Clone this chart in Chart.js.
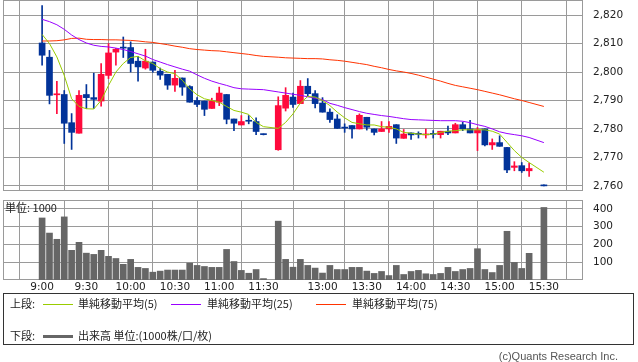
<!DOCTYPE html>
<html>
<head>
<meta charset="utf-8">
<script src="https://cdn.jsdelivr.net/npm/chart.js@4/dist/chart.umd.min.js"></script>
<style>
  body { margin: 0; background: #fff; }
  #wrap { position: relative; width: 638px; height: 362px; overflow: hidden; font-family: "Noto Sans CJK JP", "Noto Sans", sans-serif; color: #222; }
  canvas { position: absolute; left: 0; }
  #priceChart { top: 0; }
  #volChart { top: 190px; }
  .txt { position: absolute; font-size: 11px; line-height: 13px; white-space: nowrap; }
  .ln { position: absolute; height: 1px; width: 30px; }
  #legend { position: absolute; left: 3px; top: 293px; width: 631px; height: 52px; border: 1px solid #333; box-sizing: border-box; }
</style>
</head>
<body>
<div id="wrap">
  <canvas id="priceChart" width="638" height="191"></canvas>
  <canvas id="volChart" width="638" height="108"></canvas>
  <div class="txt" style="left:5px;top:201px;">単位: 1000</div>
  <div id="legend"></div>
  <div class="txt" style="left:10px;top:297px;">上段:</div>
  <div class="ln" style="left:43px;top:304px;background:#99cc00;"></div>
  <div class="txt" style="left:78px;top:297px;">単純移動平均(5)</div>
  <div class="ln" style="left:171px;top:304px;background:#9900ff;"></div>
  <div class="txt" style="left:207px;top:297px;">単純移動平均(25)</div>
  <div class="ln" style="left:316px;top:304px;background:#ff3300;"></div>
  <div class="txt" style="left:352px;top:297px;">単純移動平均(75)</div>
  <div class="txt" style="left:10px;top:329px;">下段:</div>
  <div class="ln" style="left:43px;top:335px;height:3px;background:#666;"></div>
  <div class="txt" style="left:78px;top:329px;">出来高 単位:(1000株/口/枚)</div>
  <div class="txt" style="right:20px;top:350px;color:#555;font-family:'Liberation Sans',sans-serif;">(c)Quants Research Inc.</div>
</div>
<script>
// 5-minute slots, '' = lunch break gap
const times = ['9:00','9:05','9:10','9:15','9:20','9:25','9:30','9:35','9:40','9:45','9:50','9:55',
  '10:00','10:05','10:10','10:15','10:20','10:25','10:30','10:35','10:40','10:45','10:50','10:55',
  '11:00','11:05','11:10','11:15','11:20','11:25','11:30','',
  '12:30','12:35','12:40','12:45','12:50','12:55',
  '13:00','13:05','13:10','13:15','13:20','13:25','13:30','13:35','13:40','13:45','13:50','13:55',
  '14:00','14:05','14:10','14:15','14:20','14:25','14:30','14:35','14:40','14:45','14:50','14:55',
  '15:00','15:05','15:10','15:15','15:20','15:25','15:30'];
const axisTimes = ['9:00','9:30','10:00','10:30','11:00','11:30','13:00','13:30','14:00','14:30','15:00','15:30'];
const priceTicks = [2760, 2770, 2780, 2790, 2800, 2810, 2820];
const volumeTicks = [100, 200, 300, 400];

const opens = [2810.2,2805.2,2792.0,2792.1,2782.2,2778.5,2792.1,2791.0,2789.8,2798.8,2807.0,2808.6,
  2808.6,2803.8,2801.4,2803.5,2800.3,2799.2,2795.4,2797.9,2794.9,2790.0,2789.8,2787.2,
  2789.4,2792.1,2783.5,2781.4,2782.9,2782.6,2778.1,null,
  2772.7,2787.3,2791.2,2788.9,2795.0,2792.4,
  2789.1,2785.9,2783.5,2780.5,2781.2,2780.0,2784.1,2780.0,2779.1,2780.0,2781.5,2776.7,
  2778.6,2778.3,2777.9,2778.3,2778.0,2779.2,2778.6,2781.5,2780.0,2778.6,2780.0,2774.4,
  2775.2,2773.5,2766.5,2767.1,2765.3,null,2760.1];
const highs = [2823.3,2807.6,2796.7,2793.5,2785.4,2793.5,2795.6,2799.6,2803.0,2810.0,2808.3,2812.3,
  2810.6,2805.5,2808.0,2803.5,2801.4,2799.2,2800.6,2797.9,2795.2,2791.0,2789.8,2790.8,
  2794.7,2792.1,2783.5,2784.7,2784.7,2783.9,2778.2,null,
  2791.3,2794.5,2792.6,2797.0,2797.7,2793.5,
  2791.0,2787.1,2785.0,2781.8,2781.2,2785.3,2784.1,2780.0,2782.6,2782.6,2781.5,2779.8,
  2778.6,2779.0,2780.0,2779.4,2779.2,2781.0,2782.0,2782.4,2783.0,2780.5,2780.0,2776.5,
  2777.6,2773.5,2768.5,2768.2,2768.0,null,2760.1];
const lows = [2802.4,2788.8,2785.4,2774.9,2772.8,2778.5,2787.2,2787.2,2788.0,2797.7,2802.4,2805.1,
  2800.0,2796.8,2801.0,2799.9,2797.4,2793.9,2793.2,2791.8,2789.4,2787.8,2784.7,2787.2,
  2788.2,2781.8,2779.4,2781.4,2781.8,2778.0,2777.9,null,
  2772.5,2786.3,2787.6,2788.9,2791.6,2787.4,
  2785.9,2782.3,2780.2,2778.8,2776.8,2780.0,2779.6,2777.9,2779.1,2778.8,2774.9,2776.7,
  2776.3,2776.8,2776.8,2776.8,2776.8,2778.0,2778.6,2779.4,2778.6,2772.4,2774.0,2772.8,
  2773.9,2764.6,2765.3,2764.7,2763.3,null,2760.0];
const closes = [2805.9,2791.8,2792.2,2782.0,2778.8,2791.8,2791.0,2790.4,2799.2,2806.7,2808.0,2808.4,
  2803.0,2801.8,2803.8,2800.6,2798.9,2795.4,2797.8,2794.7,2789.4,2788.6,2786.9,2789.8,
  2792.6,2783.4,2782.0,2782.6,2782.7,2779.1,2778.0,null,
  2788.2,2791.8,2788.6,2795.0,2792.4,2788.9,
  2785.9,2783.3,2780.2,2780.3,2780.0,2784.8,2780.6,2778.8,2780.0,2780.9,2776.8,2778.2,
  2777.9,2778.1,2778.1,2778.1,2779.2,2778.6,2781.5,2780.0,2778.6,2779.7,2774.4,2775.2,
  2773.9,2765.6,2767.0,2765.3,2766.1,null,2760.0];
const volumes = [349,264,229,355,167,212,151,144,167,133,121,88,
  116,71,65,44,50,56,56,56,95,82,76,71,
  71,172,104,54,38,59,8,null,
  331,116,72,116,82,67,
  39,82,59,59,71,71,50,37,48,25,82,31,
  48,54,35,31,37,71,48,59,65,176,59,42,
  82,274,99,65,150,null,408];

const sma5 = [2813.2,2810.0,2805.3,2798.8,2790.6,2787.9,2787.1,2787.0,2790.0,2795.3,2800.0,2803.0,
  2805.1,2805.5,2803.9,2803.0,2801.2,2800.0,2799.4,2797.1,2794.1,2792.0,2790.6,2790.0,
  2789.4,2787.9,2786.5,2785.9,2785.1,2782.3,2780.8,null,
  2780.2,2782.3,2785.3,2789.1,2791.4,2791.2,
  2790.0,2788.2,2785.9,2783.9,2782.3,2781.8,2781.4,2781.4,2780.8,2780.6,2780.0,2778.8,
  2778.5,2778.2,2778.0,2778.2,2778.8,2779.2,2779.4,2779.7,2779.7,2779.7,2779.7,2779.2,
  2778.2,2775.3,2772.4,2770.0,2768.2,null,2764.8];
const sma25 = [2818.5,2817.7,2816.6,2815.0,2813.0,2811.4,2810.2,2809.4,2809.0,2808.8,2808.4,2807.9,
  2807.2,2806.4,2805.6,2804.4,2803.5,2802.6,2801.8,2801.0,2800.3,2799.0,2797.8,2796.8,
  2796.0,2795.3,2794.5,2794.1,2794.0,2793.9,2793.8,null,
  2793.0,2792.6,2792.2,2791.8,2791.3,2790.8,
  2790.3,2789.0,2788.3,2787.5,2786.8,2786.1,2785.5,2785.1,2784.7,2784.4,2784.0,2783.6,
  2783.3,2783.2,2783.1,2783.0,2782.9,2782.9,2782.9,2782.7,2782.2,2781.5,2780.9,2780.0,
  2779.0,2778.4,2778.0,2777.6,2777.0,null,2775.2];
const sma75 = [2810.9,2810.9,2811.0,2811.3,2811.8,2811.9,2811.5,2811.4,2811.4,2811.3,2811.3,2811.2,
  2811.1,2810.9,2810.6,2810.4,2810.0,2809.6,2809.1,2808.7,2808.2,2807.9,2807.7,2807.5,
  2807.4,2807.1,2806.8,2806.5,2806.2,2805.8,2805.5,null,
  2805.2,2805.0,2804.9,2804.8,2804.7,2804.7,
  2804.6,2804.3,2804.1,2803.8,2803.4,2803.0,2802.6,2802.0,2801.5,2800.9,2800.4,2800.0,
  2799.5,2798.9,2798.2,2797.5,2796.8,2796.0,2795.3,2794.8,2794.3,2793.8,2793.2,2792.6,
  2792.0,2791.3,2790.6,2790.0,2789.3,null,2787.9];

const UP = '#ff0a3c';
const DOWN = '#023399';
const GRID = '#9a9a9a';
const tickFont = { family: 'DejaVu Sans', size: 10.5 };

function points(arr) {
  const out = [];
  arr.forEach((v, i) => { if (v !== null) out.push({ x: i, y: v }); });
  return out;
}
function ranges(a, b) {
  const out = [];
  a.forEach((v, i) => { if (v !== null) out.push({ x: i, y: [v, b[i]] }); });
  return out;
}
const candleColors = [];
opens.forEach((o, i) => { if (o !== null) candleColors.push(closes[i] > o ? UP : DOWN); });

const tickIdx = axisTimes.map(t => times.indexOf(t));

// gray frame round the plot area
const framePlugin = {
  id: 'frame',
  beforeDatasetsDraw(chart) {
    const a = chart.chartArea;
    const ctx = chart.ctx;
    ctx.save();
    ctx.strokeStyle = GRID;
    ctx.lineWidth = 1;
    ctx.strokeRect(Math.round(a.left) + 0.5, Math.round(a.top) + 0.5, Math.round(a.right - a.left) - 1, Math.round(a.bottom - a.top) - 1);
    ctx.restore();
  }
};

function xScale(showLabels) {
  return {
    type: 'linear',
    min: -5.3,
    max: 73.3,
    offset: false,
    afterBuildTicks: s => { s.ticks = tickIdx.map(v => ({ value: v })); },
    afterFit: s => {
      s.height = showLabels ? 18 : 0;
      s.paddingLeft = 0;
      s.paddingRight = 0;
    },
    grid: { color: GRID, drawTicks: false },
    border: { display: false },
    ticks: {
      display: showLabels,
      padding: 1,
      maxRotation: 0,
      autoSkip: false,
      color: '#222',
      font: tickFont,
      callback: (v, i) => axisTimes[i]
    }
  };
}

function yScale(min, max, ticks, fmt) {
  return {
    position: 'right',
    min: min,
    max: max,
    afterBuildTicks: s => { s.ticks = ticks.map(v => ({ value: v })); },
    afterFit: s => {
      s.width = 55;
      s.paddingTop = 0;
      s.paddingBottom = 0;
    },
    grid: { color: GRID, drawTicks: false },
    border: { display: false },
    ticks: { padding: 10, color: '#222', font: tickFont, callback: fmt }
  };
}

new Chart(document.getElementById('priceChart'), {
  type: 'bar',
  data: {
    datasets: [
      { type: 'line', data: points(sma5), borderColor: '#99cc00', borderWidth: 1, pointRadius: 0, order: 0 },
      { type: 'line', data: points(sma25), borderColor: '#9900ff', borderWidth: 1, pointRadius: 0, order: 0 },
      { type: 'line', data: points(sma75), borderColor: '#ff3300', borderWidth: 1, pointRadius: 0, order: 0 },
      { data: ranges(opens, closes), backgroundColor: candleColors, barThickness: 6, minBarLength: 1, grouped: false, order: 1 },
      { data: ranges(lows, highs), backgroundColor: candleColors, barThickness: 1, minBarLength: 1, grouped: false, order: 2 }
    ]
  },
  options: {
    responsive: false,
    animation: false,
    layout: { padding: { left: 3, top: 0, right: 0, bottom: 0 } },
    plugins: { legend: { display: false }, tooltip: { enabled: false } },
    scales: {
      x: xScale(false),
      y: yScale(2758.2, 2825.3, priceTicks, v => v.toLocaleString('en-US'))
    }
  },
  plugins: [framePlugin]
});

new Chart(document.getElementById('volChart'), {
  type: 'bar',
  data: {
    datasets: [
      { data: points(volumes), backgroundColor: '#666666', barThickness: 6, grouped: false }
    ]
  },
  options: {
    responsive: false,
    animation: false,
    layout: { padding: { left: 3, top: 10, right: 0, bottom: 0 } },
    plugins: { legend: { display: false }, tooltip: { enabled: false } },
    scales: {
      x: xScale(true),
      y: yScale(0, 450, volumeTicks, v => v)
    }
  },
  plugins: [framePlugin]
});
</script>
</body>
</html>
